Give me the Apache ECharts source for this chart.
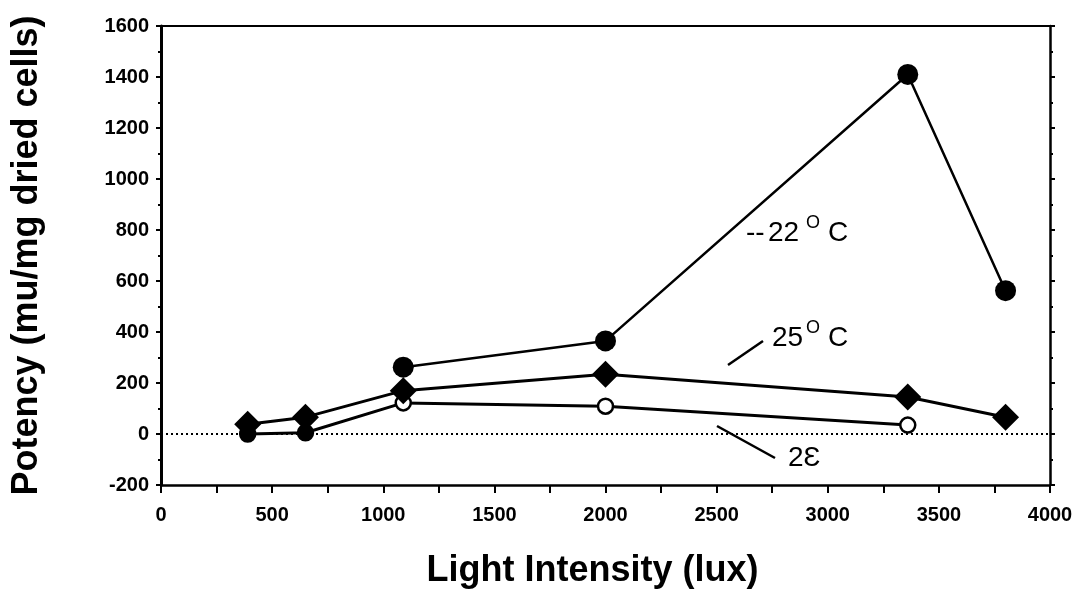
<!DOCTYPE html>
<html>
<head>
<meta charset="utf-8">
<title>potency</title>
<script src="https://cdn.jsdelivr.net/npm/echarts@6/dist/echarts.min.js"></script>
<style>
  html,body{margin:0;padding:0;background:#fff;}
  #main{width:1085px;height:594px;}
</style>
</head>
<body>
<div id="main"></div>
<script>
  // light intensity (lux) and potency (mu/mg dried cells)
  var lux22 = [1090, 2000, 3360, 3800];
  var pot22 = [262, 365, 1410, 562];
  var lux25 = [390, 650, 1090, 2000, 3360, 3800];
  var pot25 = [38, 66, 170, 234, 145, 66];
  var lux28 = [390, 650, 1090, 2000, 3360];
  var pot28 = [0, 5, 122, 109, 35];

  var FONT = "'Liberation Sans', Arial, sans-serif";

  function pairs(xs, ys){
    return xs.map(function(x, i){ return [x, ys[i]]; });
  }
  function plain(v){ return String(v); }

  var chart = echarts.init(document.getElementById('main'));

  var option = {
    backgroundColor: '#fff',
    animation: false,
    grid: { left: 161, right: 35, top: 26, bottom: 107 },
    xAxis: [{
      type: 'value', min: 0, max: 4000, interval: 500,
      position: 'bottom',
      axisLine: { show: true, onZero: false, lineStyle: { color: '#000', width: 2.5 } },
      axisTick: { show: true, inside: false, length: 8, lineStyle: { color: '#000', width: 2 } },
      minorTick: { show: true, splitNumber: 2, length: 8, lineStyle: { color: '#000', width: 2 } },
      splitLine: { show: false },
      axisLabel: { color: '#000', fontFamily: FONT, fontWeight: 'bold', fontSize: 20, margin: 20, formatter: plain },
      name: 'Light Intensity (lux)',
      nameLocation: 'middle',
      nameGap: 68,
      nameTextStyle: { color: '#000', fontFamily: FONT, fontWeight: 'bold', fontSize: 36, padding: [0, 26, 0, 0] }
    }, {
      type: 'value', min: 0, max: 4000, interval: 500,
      position: 'top',
      axisLine: { show: true, onZero: false, lineStyle: { color: '#000', width: 2 } },
      axisTick: { show: false },
      axisLabel: { show: false },
      splitLine: { show: false }
    }],
    yAxis: [{
      type: 'value', min: -200, max: 1600, interval: 200,
      position: 'left',
      axisLine: { show: true, onZero: false, lineStyle: { color: '#000', width: 3 } },
      axisTick: { show: true, inside: false, length: 5, lineStyle: { color: '#000', width: 2 } },
      minorTick: { show: true, splitNumber: 2, length: 3, lineStyle: { color: '#000', width: 2 } },
      splitLine: { show: false },
      axisLabel: { color: '#000', fontFamily: FONT, fontWeight: 'bold', fontSize: 20, margin: 12, formatter: plain },
      name: 'Potency (mu/mg dried cells)',
      nameLocation: 'middle',
      nameGap: 116,
      nameTextStyle: { color: '#000', fontFamily: FONT, fontWeight: 'bold', fontSize: 36 }
    }, {
      type: 'value', min: -200, max: 1600, interval: 200,
      position: 'right',
      axisLine: { show: true, onZero: false, lineStyle: { color: '#000', width: 2.5 } },
      axisTick: { show: true, inside: false, length: 5, lineStyle: { color: '#000', width: 2 } },
      minorTick: { show: true, splitNumber: 2, length: 3, lineStyle: { color: '#000', width: 2 } },
      axisLabel: { show: false },
      splitLine: { show: false }
    }],
    series: [
      {
        name: '28°C',
        type: 'line',
        data: pairs(lux28, pot28),
        symbol: 'circle',
        symbolSize: 15,
        lineStyle: { color: '#000', width: 3 },
        itemStyle: {
          // the two low-light points sit under the diamonds and print black
          color: function(p){ return p.value[0] < 1000 ? '#000' : '#fff'; },
          borderColor: '#000',
          borderWidth: 2.5
        },
        markLine: {
          silent: true,
          symbol: 'none',
          label: { show: false },
          lineStyle: { color: '#000', type: [2, 3], width: 2 },
          data: [{ yAxis: 0 }]
        },
        z: 2
      },
      {
        name: '22°C',
        type: 'line',
        data: pairs(lux22, pot22),
        symbol: 'circle',
        symbolSize: 21,
        lineStyle: { color: '#000', width: 2.5 },
        itemStyle: { color: '#000' },
        z: 3
      },
      {
        name: '25°C',
        type: 'line',
        data: pairs(lux25, pot25),
        symbol: 'diamond',
        symbolSize: [27, 27],
        lineStyle: { color: '#000', width: 3 },
        itemStyle: { color: '#000' },
        z: 4
      }
    ],
    graphic: [
      // 22 °C label
      { type: 'text', left: 746, top: 219, style: { text: '--', font: '28px ' + FONT, fill: '#000' } },
      { type: 'text', left: 768, top: 219, style: { text: '22', font: '28px ' + FONT, fill: '#000' } },
      { type: 'text', left: 806, top: 214, style: { text: 'O', font: '18px ' + FONT, fill: '#000' } },
      { type: 'text', left: 828, top: 219, style: { text: 'C', font: '28px ' + FONT, fill: '#000' } },
      // 25 °C label
      { type: 'line', shape: { x1: 728, y1: 365, x2: 763, y2: 341 }, style: { stroke: '#000', lineWidth: 2.5 } },
      { type: 'text', left: 772, top: 324, style: { text: '25', font: '28px ' + FONT, fill: '#000' } },
      { type: 'text', left: 806, top: 319, style: { text: 'O', font: '18px ' + FONT, fill: '#000' } },
      { type: 'text', left: 828, top: 324, style: { text: 'C', font: '28px ' + FONT, fill: '#000' } },
      // 28 label
      { type: 'line', shape: { x1: 717, y1: 426, x2: 775, y2: 458 }, style: { stroke: '#000', lineWidth: 2.5 } },
      { type: 'text', left: 788, top: 444, style: { text: '2Ɛ', font: '28px ' + FONT, fill: '#000' } }
    ]
  };

  chart.setOption(option);
</script>
</body>
</html>
